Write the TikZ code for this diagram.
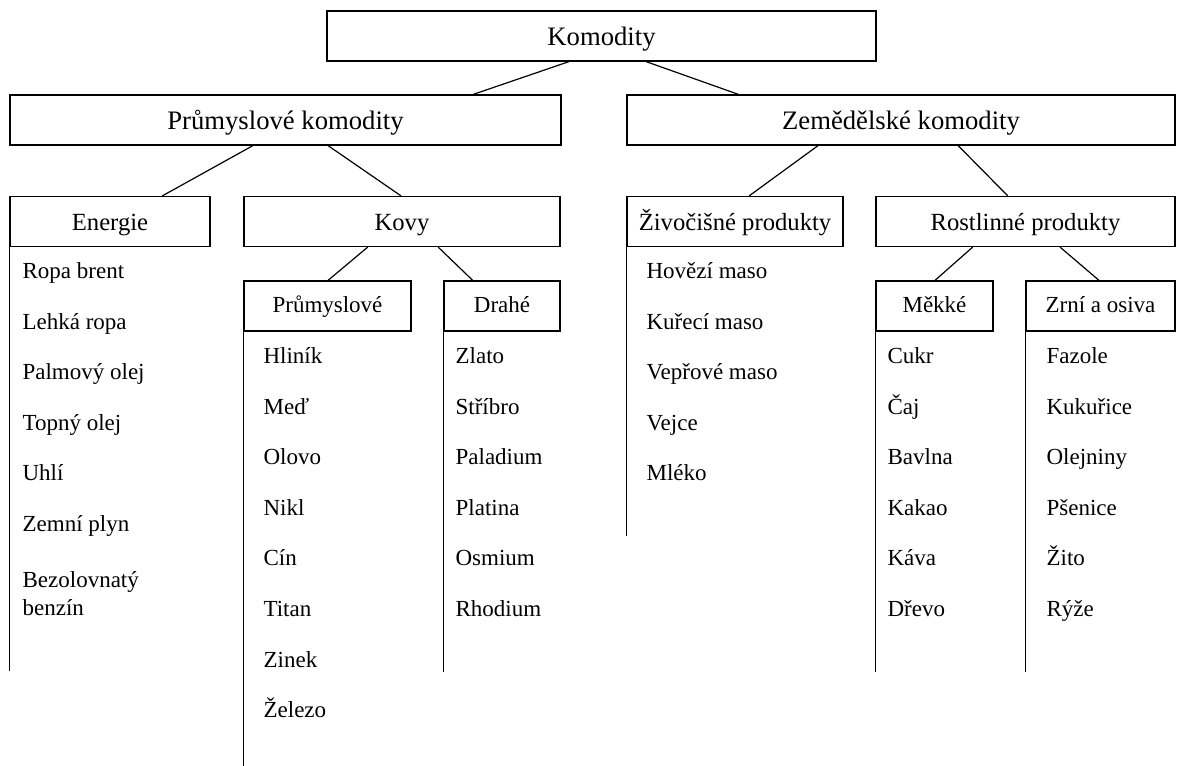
\documentclass[tikz,border=0pt]{standalone}
\usepackage{fontspec}
\setmainfont{Liberation Serif}
\usetikzlibrary{calc}

\begin{document}
\begin{tikzpicture}[x=0.75pt, y=-0.75pt, line width=0.9pt,
    box/.style 2 args={draw, inner sep=0pt, text depth=0pt,
      minimum width={#1*0.75pt}, minimum height={#2*0.75pt}},
    big/.style={font=\fontsize{20}{23}\selectfont, text height=15pt},
    mid/.style={font=\fontsize{18.5}{22}\selectfont, text height=14.2pt},
    small/.style={font=\fontsize{17.25}{20}\selectfont},
    sub/.style={small, text height=10.5pt},
    item/.style={small, anchor=base west, inner sep=0pt}]
    \useasboundingbox (0,0) rectangle (1177,766);
    \node[box={549}{50}, big] (komodity) at (601.5,36) {Komodity};
    \node[box={551}{50}, big] (prum) at (285.5,120) {Průmyslové komodity};
    \node[box={548}{50}, big] (zem) at (901,120) {Zemědělské komodity};
    \node[box={200}{50}, mid] (energie) at (110,221.5) {Energie};
    \node[box={316}{50}, mid] (kovy) at (402,221.5) {Kovy};
    \node[box={216}{50}, mid] (ziv) at (735,221.5) {Živočišné produkty};
    \node[box={299}{50}, mid] (rost) at (1025.5,221.5) {Rostlinné produkty};
    \node[box={167}{50}, sub] (prumsub) at (327.5,306) {Průmyslové};
    \node[box={116}{50}, sub] (drahe) at (502,306) {Drahé};
    \node[box={117}{50}, sub] (mekke) at (934.5,306) {Měkké};
    \node[box={149}{50}, sub] (zrni) at (1100.5,306) {Zrní a osiva};
    % tree lines
    \foreach \a/\p/\b/\q in {komodity/0.441/prum/0.840, komodity/0.581/zem/0.204,
        prum/0.441/energie/0.76, prum/0.577/kovy/0.497,
        zem/0.349/ziv/0.565, zem/0.604/rost/0.441,
        kovy/0.392/prumsub/0.503, kovy/0.614/drahe/0.25,
        rost/0.324/mekke/0.504, rost/0.615/zrni/0.49} {
      \draw ($(\a.south west)!\p!(\a.south east)$) -- ($(\b.north west)!\q!(\b.north east)$);
    }
    \foreach \n/\l in {energie/424, ziv/289, prumsub/437, drahe/340, mekke/340, zrni/340} {
      \draw (\n.south west) -- ++(0,\l);
    }
    % lists
    \foreach \m [count=\i] in {Ropa brent, Lehká ropa, Palmový olej, Topný olej, Uhlí, Zemní plyn} {
      \node[item] (en-\i) at (22,{279+(\i-1)*50.4}) {\m};
    }
    \node[item] (en-7) at (22,587) {Bezolovnatý};
    \node[item] (en-8) at (22,615) {benzín};
    \foreach \m [count=\i] in {Hovězí maso, Kuřecí maso, Vepřové maso, Vejce, Mléko} {
      \node[item] (ziv-\i) at (646,{279+(\i-1)*50.4}) {\m};
    }
    \foreach \m [count=\i] in {Hliník, Meď, Olovo, Nikl, Cín, Titan, Zinek, Železo} {
      \node[item] (pr-\i) at (263,{363.5+(\i-1)*50.6}) {\m};
    }
    \foreach \m [count=\i] in {Zlato, Stříbro, Paladium, Platina, Osmium, Rhodium} {
      \node[item] (dr-\i) at (455,{363.5+(\i-1)*50.6}) {\m};
    }
    \foreach \m [count=\i] in {Cukr, Čaj, Bavlna, Kakao, Káva, Dřevo} {
      \node[item] (me-\i) at (887,{363.5+(\i-1)*50.6}) {\m};
    }
    \foreach \m [count=\i] in {Fazole, Kukuřice, Olejniny, Pšenice, Žito, Rýže} {
      \node[item] (zr-\i) at (1046,{363.5+(\i-1)*50.6}) {\m};
    }
  \end{tikzpicture}
\end{document}
